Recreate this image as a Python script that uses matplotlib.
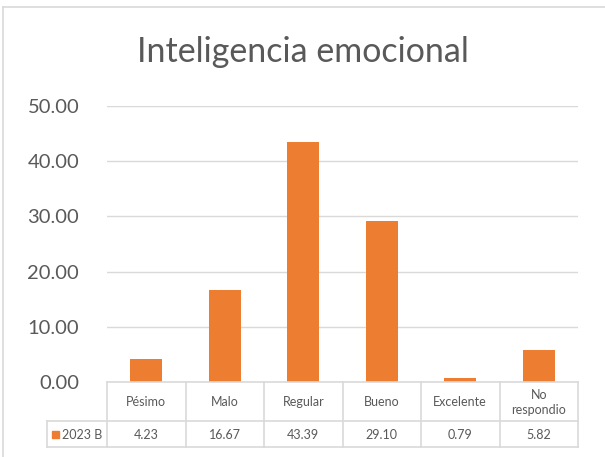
import numpy as np
import matplotlib.pyplot as plt
from matplotlib.patches import Rectangle

plt.rcParams['font.family'] = ['Lato', 'DejaVu Sans']

# data
categorias = ['Pésimo', 'Malo', 'Regular', 'Bueno', 'Excelente', 'No\nrespondio']
valores = [4.23, 16.67, 43.39, 29.10, 0.79, 5.82]
serie = '2023 B'
yticks = [0, 10, 20, 30, 40, 50]

W, H = 605, 457
naranja = '#ED7D31'
gris_txt = '#595959'
gris_lin = '#D9D9D9'

fig = plt.figure(figsize=(W / 100, H / 100), dpi=100)

def fx(x):
    return x / W

def fy(y):
    return 1 - y / H

# plot area in pixel coords
x0, x1 = 107, 578
y_top, y_base = 106, 382
ax = fig.add_axes([fx(x0), fy(y_base), fx(x1 - x0), (y_base - y_top) / H])

n = len(categorias)
pos = np.arange(n)
ax.bar(pos, valores, width=0.41, color=naranja, zorder=3)
ax.set_xlim(-0.5, n - 0.5)
ax.set_ylim(0, 50)
ax.set_yticks(yticks)
ax.set_yticklabels(['%.2f' % v for v in yticks], fontsize=14.5, color=gris_txt)
ax.tick_params(axis='y', length=0, pad=20)
ax.set_xticks([])
for s in ax.spines.values():
    s.set_visible(False)
for v in yticks[1:]:
    ax.axhline(v, color=gris_lin, lw=1, zorder=1)

# title
fig.text(fx(303), fy(52), 'Inteligencia emocional', ha='center', va='center',
         fontsize=24.5, color=gris_txt)

# data table below the axis
row1, row2, row3 = 382, 421, 447
col_w = (x1 - x0) / n
leg_x = 47
lk = dict(color=gris_lin, lw=1.2)
fig.add_artist(plt.Line2D([fx(x0), fx(x1)], [fy(row1), fy(row1)], **lk))
fig.add_artist(plt.Line2D([fx(leg_x), fx(x1)], [fy(row2), fy(row2)], **lk))
fig.add_artist(plt.Line2D([fx(leg_x), fx(x1)], [fy(row3), fy(row3)], **lk))
fig.add_artist(plt.Line2D([fx(leg_x), fx(leg_x)], [fy(row2), fy(row3)], **lk))
for k in range(n + 1):
    xx = x0 + k * col_w
    fig.add_artist(plt.Line2D([fx(xx), fx(xx)], [fy(row1), fy(row3)], **lk))

for i, (c, v) in enumerate(zip(categorias, valores)):
    cx = x0 + (i + 0.5) * col_w
    fig.text(fx(cx), fy((row1 + row2) / 2 + 1), c, ha='center', va='center',
             fontsize=9, color=gris_txt, linespacing=1.3)
    fig.text(fx(cx), fy((row2 + row3) / 2 + 1), '%.2f' % v, ha='center', va='center',
             fontsize=9, color=gris_txt)

# legend key in the table
fig.add_artist(Rectangle((fx(52), fy(438)), fx(7), 7 / H, color=naranja))
fig.text(fx(62), fy((row2 + row3) / 2 + 1), serie, ha='left', va='center',
         fontsize=9, color=gris_txt)

# chart border
fig.add_artist(plt.Line2D([fx(3), fx(605)], [fy(7), fy(7)], color=gris_lin, lw=1.2))
fig.add_artist(plt.Line2D([fx(3), fx(3)], [fy(7), fy(457)], color=gris_lin, lw=1.2))

fig.savefig('out.png', dpi=100)
